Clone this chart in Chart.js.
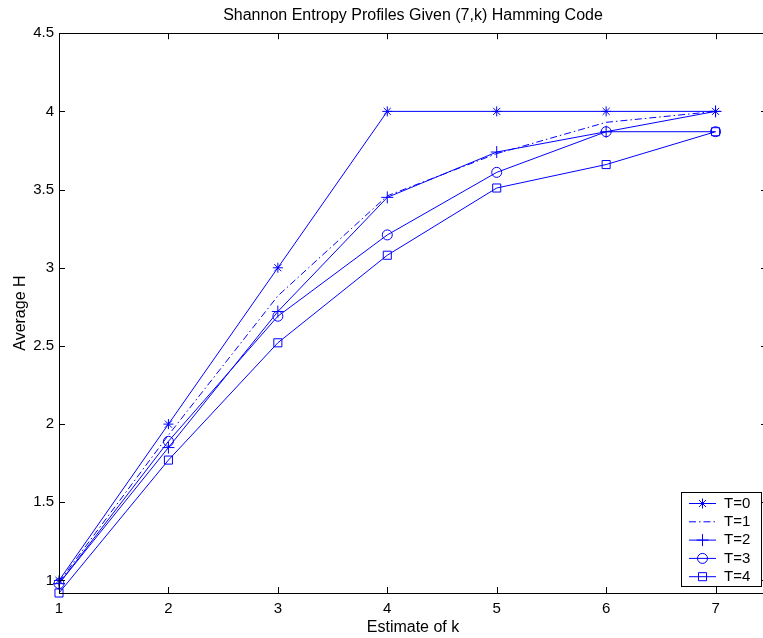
<!DOCTYPE html>
<html>
<head>
<meta charset="utf-8">
<script src="https://cdn.jsdelivr.net/npm/chart.js@4"></script>
<style>
  html, body { margin: 0; padding: 0; background: #fff; overflow: hidden; }
  #wrap { width: 820px; height: 638px; }
</style>
</head>
<body>
<div id="wrap"><canvas id="entropyChart" width="820" height="638"></canvas></div>
<script>
// Data
const kValues = [1, 2, 3, 4, 5, 6, 7];
const seriesLabels = ['T=0', 'T=1', 'T=2', 'T=3', 'T=4'];
const t0Values = [1.00, 2.00, 3.00, 4.00, 4.00, 4.00, 4.00];
const t1Values = [0.99, 1.93, 2.82, 3.46, 3.73, 3.93, 4.00];
const t2Values = [0.98, 1.85, 2.72, 3.45, 3.74, 3.87, 4.00];
const t3Values = [0.98, 1.89, 2.69, 3.21, 3.61, 3.87, 3.87];
const t4Values = [0.92, 1.77, 2.52, 3.08, 3.51, 3.66, 3.87];
const xTicks = [1, 2, 3, 4, 5, 6, 7];
const yTicks = [1, 1.5, 2, 2.5, 3, 3.5, 4, 4.5];

const BLUE = '#0000ff';
const FONT = 'Arial, "Liberation Sans", Helvetica, sans-serif';

// marker style per series (null = plain line)
const markers = [
    { style: 'star', radius: 5 },
    null,
    { style: 'cross', radius: 6 },
    { style: 'circle', radius: 5 },
    { style: 'rect', radius: 5.7 }
];
const dashes = [[], [7, 3, 1.5, 3], [], [], []];

function toPoints(values) {
    return kValues.map((k, i) => ({ x: k, y: values[i] }));
}

const allValues = [t0Values, t1Values, t2Values, t3Values, t4Values];

const datasets = allValues.map((vals, i) => ({
    label: seriesLabels[i],
    data: toPoints(vals),
    borderColor: BLUE,
    borderWidth: 1,
    borderDash: dashes[i],
    pointStyle: markers[i] ? markers[i].style : false,
    pointRadius: markers[i] ? markers[i].radius : 0,
    pointBorderColor: BLUE,
    pointBackgroundColor: 'rgba(0,0,0,0)',
    pointBorderWidth: 1,
    tension: 0,
    fill: false,
    clip: false
}));

// Frame with inward tick marks, MATLAB style
const framePlugin = {
    id: 'frame',
    afterDatasetsDraw(chart) {
        const { ctx, chartArea: a, scales } = chart;
        const len = 6;
        ctx.save();
        ctx.strokeStyle = '#000';
        ctx.lineWidth = 1;
        ctx.beginPath();
        xTicks.forEach(v => {
            const x = Math.round(scales.x.getPixelForValue(v)) + 0.5;
            ctx.moveTo(x, a.bottom); ctx.lineTo(x, a.bottom - len);
            ctx.moveTo(x, a.top); ctx.lineTo(x, a.top + len);
        });
        yTicks.forEach(v => {
            const y = Math.round(scales.y.getPixelForValue(v)) + 0.5;
            ctx.moveTo(a.left, y); ctx.lineTo(a.left + len, y);
            ctx.moveTo(a.right, y); ctx.lineTo(a.right - len, y);
        });
        ctx.stroke();
        ctx.strokeRect(Math.round(a.left) + 0.5, Math.round(a.top) + 0.5,
            Math.round(a.right - a.left), Math.round(a.bottom - a.top));
        ctx.restore();
    }
};

// Boxed legend with line sample and marker, lower right
const legendPlugin = {
    id: 'boxLegend',
    afterDraw(chart) {
        const ctx = chart.ctx;
        const box = { x: 681.5, y: 492.5, w: 80, h: 94 };
        ctx.save();
        ctx.fillStyle = '#fff';
        ctx.fillRect(box.x, box.y, box.w, box.h);
        ctx.strokeStyle = '#000';
        ctx.lineWidth = 1;
        ctx.strokeRect(box.x, box.y, box.w, box.h);
        ctx.textBaseline = 'middle';
        seriesLabels.forEach((label, i) => {
            const y = box.y + 11 + i * 18.3;
            ctx.strokeStyle = BLUE;
            ctx.lineWidth = 1;
            ctx.setLineDash(dashes[i]);
            ctx.beginPath();
            ctx.moveTo(689, y);
            ctx.lineTo(716, y);
            ctx.stroke();
            ctx.setLineDash([]);
            if (markers[i]) {
                ctx.fillStyle = 'rgba(0,0,0,0)';
                ctx.strokeStyle = BLUE;
                Chart.helpers.drawPoint(ctx, {
                    pointStyle: markers[i].style,
                    radius: markers[i].radius,
                    borderWidth: 1,
                    rotation: 0
                }, 702.5, y);
            }
            ctx.fillStyle = '#000';
            ctx.font = '15px ' + FONT;
            ctx.fillText(label, 724, y);
        });
        ctx.restore();
    }
};

const ctx = document.getElementById('entropyChart').getContext('2d');

new Chart(ctx, {
    type: 'line',
    data: { datasets: datasets },
    options: {
        responsive: false,
        animation: false,
        layout: { padding: { top: 0, left: 0, right: 53, bottom: 0 } },
        plugins: {
            legend: { display: false },
            tooltip: { enabled: false },
            title: {
                display: true,
                fullSize: false,
                text: 'Shannon Entropy Profiles Given (7,k) Hamming Code',
                color: '#000',
                font: { family: FONT, size: 16, weight: 'normal' },
                padding: { top: 5.5, bottom: 8.5 }
            }
        },
        scales: {
            x: {
                type: 'linear',
                min: 1,
                max: 7.47,
                afterFit: scale => { scale.height = 45; },
                grid: { display: false, drawTicks: false },
                border: { display: false },
                ticks: {
                    stepSize: 1,
                    includeBounds: false,
                    padding: 7,
                    maxRotation: 0,
                    color: '#000',
                    font: { family: FONT, size: 15 },
                    callback: v => String(v)
                },
                title: {
                    display: true,
                    text: 'Estimate of k',
                    color: '#000',
                    font: { family: FONT, size: 16 },
                    padding: { top: 0, bottom: 0.5 }
                }
            },
            y: {
                type: 'linear',
                min: 0.92,
                max: 4.5,
                afterFit: scale => { scale.width = 59; },
                grid: { display: false, drawTicks: false },
                border: { display: false },
                ticks: {
                    stepSize: 0.5,
                    includeBounds: false,
                    padding: 5,
                    color: '#000',
                    font: { family: FONT, size: 15 },
                    callback: v => String(Math.round(v * 10) / 10)
                },
                title: {
                    display: true,
                    text: 'Average H',
                    color: '#000',
                    font: { family: FONT, size: 16 },
                    padding: { top: 10.5, bottom: 0 }
                }
            }
        }
    },
    plugins: [framePlugin, legendPlugin]
});
</script>
</body>
</html>
